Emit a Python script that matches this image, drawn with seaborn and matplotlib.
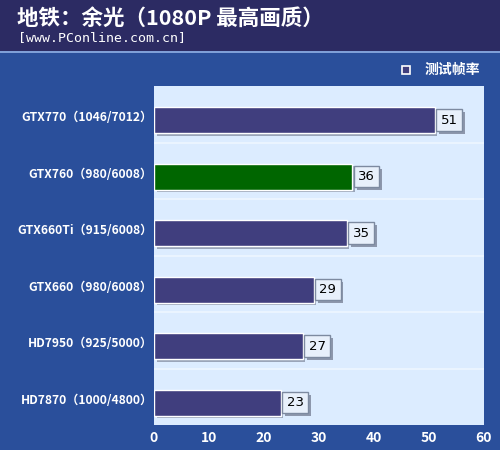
import matplotlib
matplotlib.use("Agg")
import matplotlib.pyplot as plt
import matplotlib.patheffects as pe
from matplotlib.patches import Rectangle
from matplotlib.transforms import ScaledTranslation
import seaborn as sns
import pandas as pd

# ---- data ----
categories = ["GTX770（1046/7012）", "GTX760（980/6008）", "GTX660Ti（915/6008）",
              "GTX660（980/6008）", "HD7950（925/5000）", "HD7870（1000/4800）"]
fps = [51, 36, 35, 29, 27, 23]
bar_colors = ["#403e7e", "#006600", "#403e7e", "#403e7e", "#403e7e", "#403e7e"]
x_ticks = [0, 10, 20, 30, 40, 50, 60]
title = "地铁：余光（1080P 最高画质）"
subtitle = "[www.PConline.com.cn]"
legend_label = "测试帧率"

sns.set_theme(style="white")
plt.rcParams['font.family'] = ['Noto Sans CJK SC', 'DejaVu Sans']

W, H = 500, 450
fig = plt.figure(figsize=(W / 100, H / 100), dpi=100)
panel = "#2a4f9b"
header = "#2c2b63"
fig.patch.set_facecolor(panel)

# header band
fig.patches.append(Rectangle((0, 1 - 51 / H), 1, 51 / H, transform=fig.transFigure,
                             facecolor=header, edgecolor="none", zorder=0))
fig.patches.append(Rectangle((0, 1 - 53 / H), 1, 2 / H, transform=fig.transFigure,
                             facecolor="#7f9fd8", edgecolor="none", zorder=0))

fig.text(17 / W, 1 - 18 / H, title, color="white", fontsize=15.5, fontweight="bold",
         va="center", ha="left")
fig.text(18 / W, 1 - 38 / H, subtitle, color="white", fontsize=9.5,
         family=["DejaVu Sans Mono"], va="center", ha="left")

# legend
fig.patches.append(Rectangle((402 / W, 1 - 74 / H), 8 / W, 8 / H, transform=fig.transFigure,
                             facecolor="#403e7e", edgecolor="white", lw=1.2, zorder=3))
fig.text(425 / W, 1 - 70 / H, legend_label, color="white", fontsize=10, fontweight="bold",
         va="center", ha="left")

ax = fig.add_axes([154 / W, (H - 425) / H, 330 / W, 339 / H])
df = pd.DataFrame({"card": categories, "fps": fps})
sns.barplot(data=df, x="fps", y="card", hue="card", palette=bar_colors, legend=False,
            orient="h", width=0.46, saturation=1, ax=ax, edgecolor="white",
            linewidth=1.0, zorder=3)

ax.set_facecolor("#dcecff")
ax.set_xlim(0, 60)
ax.set_ylim(5.398, -0.602)
ax.set_xticks(x_ticks)
ax.set_xlabel("")
ax.set_ylabel("")
for s in ax.spines.values():
    s.set_visible(False)
ax.tick_params(axis="x", length=0, pad=4, colors="white", labelsize=10)
ax.tick_params(axis="y", length=0, pad=1, colors="white", labelsize=8.7)
for lbl in ax.get_xticklabels():
    lbl.set_fontweight("bold")
for lbl in ax.get_yticklabels():
    lbl.set_fontweight("bold")
    lbl.set_transform(lbl.get_transform() + ScaledTranslation(0, 4 / 100, fig.dpi_scale_trans))

# row separators
for k in range(5):
    ax.axhline(k + 0.4, color="#eef6ff", lw=1.2, zorder=1)

for p in ax.patches:
    p.set_path_effects([pe.SimplePatchShadow(offset=(2, -2), shadow_rgbFace="#8a93a8", alpha=0.8),
                        pe.Normal()])

for i, v in enumerate(fps):
    t = ax.annotate(str(v), xy=(v, i), xytext=(6, 0), textcoords="offset pixels",
                    ha="left", va="center", fontsize=9.5, color="black",
                    family=["DejaVu Sans"], zorder=5,
                    bbox=dict(boxstyle="square,pad=0.32", fc="#e8f0fb", ec="#7d8aa0", lw=1))
    t.get_bbox_patch().set_path_effects([pe.SimplePatchShadow(offset=(2, -2),
                                                              shadow_rgbFace="#7a8298", alpha=0.8),
                                         pe.Normal()])

fig.savefig("out.png", dpi=100, facecolor=fig.get_facecolor())
